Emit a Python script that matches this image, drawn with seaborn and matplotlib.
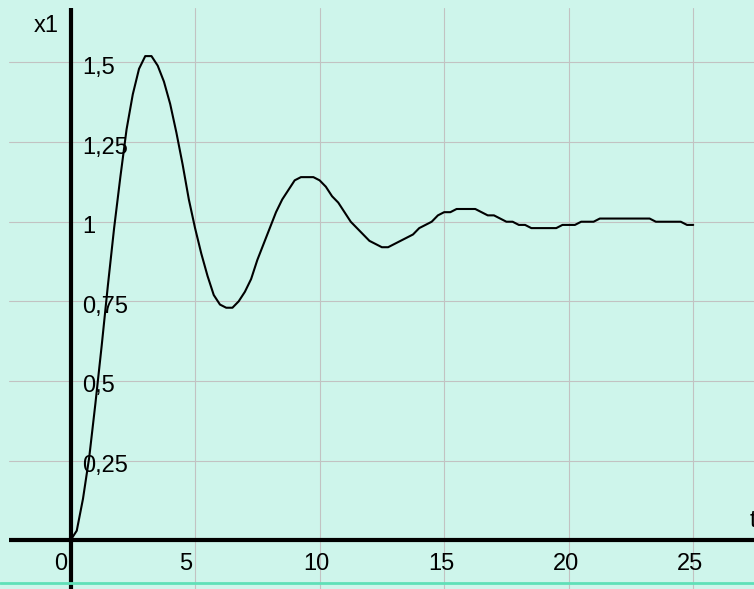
import numpy as np
import pandas as pd
import matplotlib
matplotlib.use('Agg')
import matplotlib.pyplot as plt
import seaborn as sns

t_step = 0.25
x1 = [0.00, 0.03, 0.13, 0.26, 0.43, 0.61, 0.80, 0.98, 1.14, 1.29,
      1.40, 1.48, 1.52, 1.52, 1.49, 1.44, 1.37, 1.28, 1.18, 1.07,
      0.98, 0.90, 0.83, 0.77, 0.74, 0.73, 0.73, 0.75, 0.78, 0.82,
      0.88, 0.93, 0.98, 1.03, 1.07, 1.10, 1.13, 1.14, 1.14, 1.14,
      1.13, 1.11, 1.08, 1.06, 1.03, 1.00, 0.98, 0.96, 0.94, 0.93,
      0.92, 0.92, 0.93, 0.94, 0.95, 0.96, 0.98, 0.99, 1.00, 1.02,
      1.03, 1.03, 1.04, 1.04, 1.04, 1.04, 1.03, 1.02, 1.02, 1.01,
      1.00, 1.00, 0.99, 0.99, 0.98, 0.98, 0.98, 0.98, 0.98, 0.99,
      0.99, 0.99, 1.00, 1.00, 1.00, 1.01, 1.01, 1.01, 1.01, 1.01,
      1.01, 1.01, 1.01, 1.01, 1.00, 1.00, 1.00, 1.00, 1.00, 0.99,
      0.99]
t = np.arange(len(x1)) * t_step

x_ticks = [0, 5, 10, 15, 20, 25]
x_tick_labels = ['0', '5', '10', '15', '20', '25']
y_ticks = [0.25, 0.5, 0.75, 1.0, 1.25, 1.5]
y_tick_labels = ['0,25', '0,5', '0,75', '1', '1,25', '1,5']

df = pd.DataFrame({'t': t, 'x1': x1})

bg = '#cef5eb'
sns.set_style('whitegrid', {'axes.facecolor': bg, 'figure.facecolor': bg,
                            'grid.color': '#c2c2c2', 'text.color': 'black'})
plt.rcParams['font.family'] = ['Liberation Sans', 'DejaVu Sans']

fig = plt.figure(figsize=(7.54, 5.89), dpi=100)
ax = fig.add_axes([9 / 754, 0, 1 - 9 / 754, 1 - 8 / 589])

sns.lineplot(data=df, x='t', y='x1', color='black', linewidth=1.5, ax=ax, zorder=3)

ax.set_xlim(-2.47, 27.44)
ax.set_ylim(-0.153, 1.671)
ax.set_xticks(x_ticks)
ax.set_yticks(y_ticks)
ax.set_xticklabels([])
ax.set_yticklabels([])
ax.tick_params(length=0)
ax.grid(True, color='#c2c2c2', linewidth=0.8)
ax.set_axisbelow(True)
ax.set_xlabel('')
ax.set_ylabel('')
for s in ax.spines.values():
    s.set_visible(False)

# thick axes through the origin
ax.axhline(0, color='black', linewidth=3, zorder=4)
ax.axvline(0, color='black', linewidth=3, zorder=4)

# tick labels sit just off the axes
for v, lab in zip(x_ticks, x_tick_labels):
    ax.annotate(lab, xy=(v, 0), xytext=(-16, -30), textcoords='offset pixels',
                ha='left', va='baseline', fontsize=17, color='black', zorder=5)
for v, lab in zip(y_ticks, y_tick_labels):
    ax.annotate(lab, xy=(0, v), xytext=(11.5, -11.5), textcoords='offset pixels',
                ha='left', va='baseline', fontsize=17, color='black', zorder=5)

ax.annotate('x1', xy=(0, 1.5), xytext=(-36.5, 30), textcoords='offset pixels',
            ha='left', va='baseline', fontsize=17, color='black')
ax.annotate('t', xy=(25, 0), xytext=(56, 13), textcoords='offset pixels',
            ha='left', va='baseline', fontsize=17, color='black')

# green border line near the bottom
fig.add_artist(plt.Line2D([0, 1], [1 - 583 / 589] * 2, color='#5fe0b8',
                          linewidth=2, transform=fig.transFigure))

fig.savefig('out.png', dpi=100, facecolor=bg)
